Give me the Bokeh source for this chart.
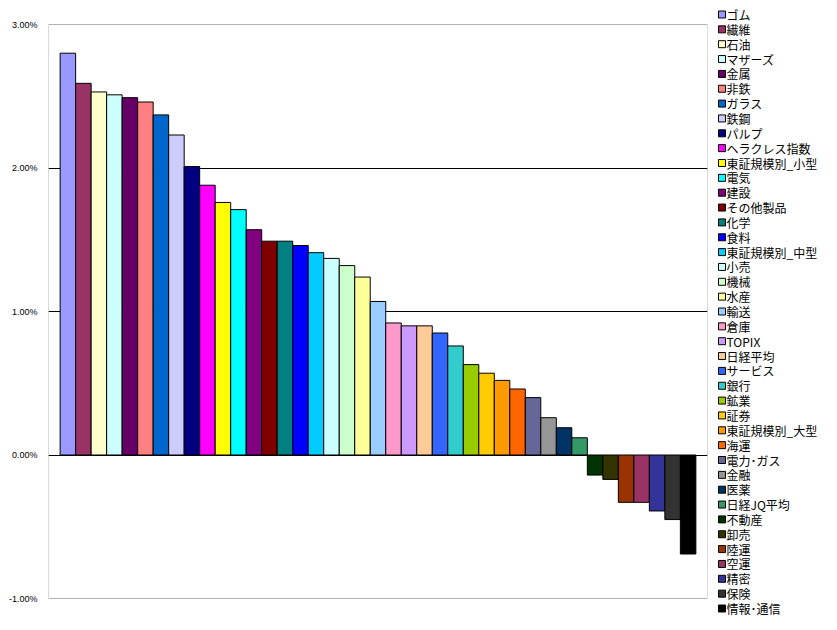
from bokeh.plotting import figure
from bokeh.layouts import row
from bokeh.models import Range1d, FixedTicker, CustomJSTickFormatter, ColumnDataSource, BoxAnnotation
from bokeh.core.properties import value
from bokeh.embed import file_html
from bokeh.resources import INLINE

categories = ["ゴム", "繊維", "石油", "マザーズ", "金属", "非鉄", "ガラス", "鉄鋼", "パルプ",
              "ヘラクレス指数", "東証規模別_小型", "電気", "建設", "その他製品", "化学", "食料",
              "東証規模別_中型", "小売", "機械", "水産", "輸送", "倉庫", "TOPIX", "日経平均",
              "サービス", "銀行", "鉱業", "証券", "東証規模別_大型", "海運", "電力･ガス", "金融",
              "医薬", "日経JQ平均", "不動産", "卸売", "陸運", "空運", "精密", "保険", "情報･通信"]
values = [2.80, 2.59, 2.53, 2.51, 2.49, 2.46, 2.37, 2.23, 2.01,
          1.88, 1.76, 1.71, 1.57, 1.49, 1.49, 1.46,
          1.41, 1.37, 1.32, 1.24, 1.07, 0.92, 0.90, 0.90,
          0.85, 0.76, 0.63, 0.57, 0.52, 0.46, 0.40, 0.26,
          0.19, 0.12, -0.14, -0.17, -0.33, -0.33, -0.39, -0.45, -0.69]
colors = ["#9999FF", "#993366", "#FFFFCC", "#CCFFFF", "#660066", "#FF8080", "#0066CC", "#CCCCFF", "#000080",
          "#FF00FF", "#FFFF00", "#00FFFF", "#800080", "#800000", "#008080", "#0000FF",
          "#00CCFF", "#CCFFFF", "#CCFFCC", "#FFFF99", "#99CCFF", "#FF99CC", "#CC99FF", "#FFCC99",
          "#3366FF", "#33CCCC", "#99CC00", "#FFCC00", "#FF9900", "#FF6600", "#666699", "#969696",
          "#003366", "#339966", "#003300", "#333300", "#993300", "#993366", "#333399", "#333333", "#000000"]
y_ticks = [-1, 0, 1, 2, 3]
grid_ticks = [0, 1, 2]

n = len(categories)
idx = list(range(n))
src = ColumnDataSource(dict(x=idx, top=values, color=colors, label=categories))

H = 625
box_top_px, box_bottom_px = 24, 598
ymin, ymax = y_ticks[0], y_ticks[-1]
ppu = (box_bottom_px - box_top_px) / (ymax - ymin)
y_start = ymin - (H - box_bottom_px) / ppu
y_end = ymax + box_top_px / ppu

# main chart
p = figure(width=712, height=H, output_backend="svg", toolbar_location=None,
           x_range=Range1d(-1.25, n - 1 + 1.25), y_range=Range1d(y_start, y_end),
           min_border_left=48, min_border_right=5, min_border_top=0, min_border_bottom=0)
p.outline_line_color = None
p.background_fill_color = "white"
p.border_fill_color = "white"

p.xaxis.visible = False
p.xgrid.visible = False
p.ygrid.ticker = FixedTicker(ticks=grid_ticks)
p.ygrid.grid_line_color = "black"
p.ygrid.grid_line_width = 1

p.yaxis.ticker = FixedTicker(ticks=y_ticks)
p.yaxis.formatter = CustomJSTickFormatter(code="return tick.toFixed(2) + '%';")
p.yaxis.axis_line_color = None
p.yaxis.major_tick_line_color = None
p.yaxis.minor_tick_line_color = None
p.yaxis.major_tick_out = 0
p.yaxis.major_tick_in = 0
p.yaxis.minor_tick_out = 0
p.yaxis.major_label_standoff = 11
p.yaxis.major_label_text_font = "Liberation Sans"
p.yaxis.major_label_text_font_size = "9px"
p.yaxis.major_label_text_color = "black"

p.vbar(x="x", top="top", bottom=0, width=1, source=src,
       fill_color="color", line_color="black", line_width=1)

# plot-area box
p.add_layout(BoxAnnotation(bottom=ymin, top=ymax, fill_alpha=0, fill_color=None,
                           line_color="black", line_width=1, level="overlay"))

# legend panel
pitch = 14.85
first_center = 14.0
ly_top = -first_center / pitch
ly_bottom = ly_top + H / pitch
lg = figure(width=122, height=H, output_backend="svg", toolbar_location=None,
            x_range=Range1d(0, 122), y_range=Range1d(ly_bottom, ly_top),
            min_border_left=0, min_border_right=0, min_border_top=0, min_border_bottom=0)
lg.axis.visible = False
lg.grid.visible = False
lg.outline_line_color = None
lg.background_fill_color = "white"
lg.border_fill_color = "white"
lg.rect(x=9.5, y="x", width=7, height=7, width_units="screen", height_units="screen",
        source=src, fill_color="color", line_color="black", line_width=1)
lg.text(x=14, y="x", text="label", source=src,
        text_font=value("Noto Sans CJK JP"), text_font_size="12px",
        text_baseline="middle", text_align="left", text_color="black")

layout = row(p, lg, spacing=0)
open("out.html", "w").write(file_html(layout, INLINE))
